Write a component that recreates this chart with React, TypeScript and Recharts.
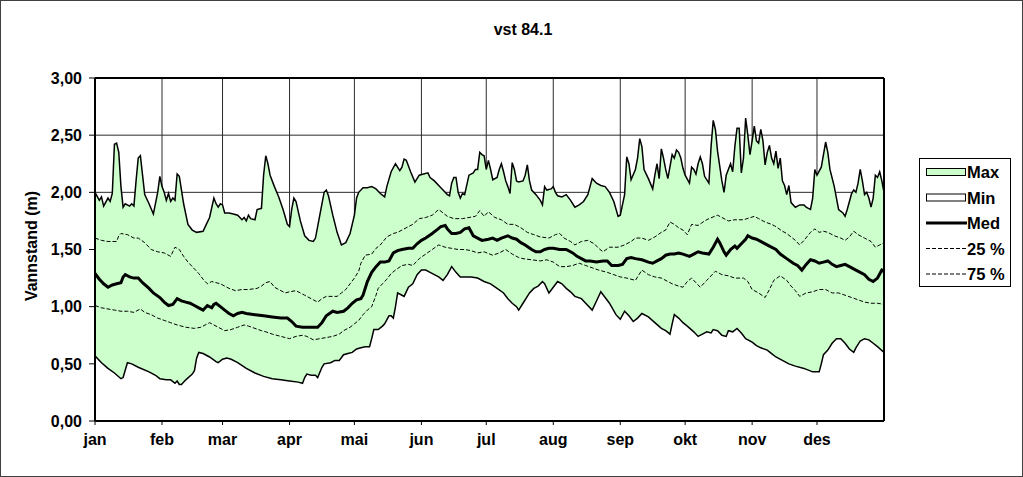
import {
  Area,
  CartesianGrid,
  ComposedChart,
  Line,
  ReferenceLine,
  XAxis,
  YAxis,
} from "recharts";

// x = day of year (0 = 1 jan), y = vannstand (m)
const months = ["jan", "feb", "mar", "apr", "mai", "jun", "jul", "aug", "sep", "okt", "nov", "des"];
const monthStartDays = [0, 31, 59, 90, 120, 151, 181, 212, 243, 273, 304, 334];
const yTicks = [0, 0.5, 1, 1.5, 2, 2.5, 3];

const maxPoints: [number, number][] = [
  [0, 2.0], [2, 1.93], [3, 1.96], [4, 1.88], [6, 1.95], [7, 1.92], [8, 1.99], [9, 2.42], [10, 2.43],
  [11, 2.35], [12, 2.05], [13, 1.87], [14, 1.9], [16, 1.88], [17, 1.9], [18, 1.88], [19, 2.1], [20, 2.3],
  [21, 2.32], [22, 2.15], [23, 1.98], [25, 1.9], [27, 1.81], [29, 2.0], [30, 2.14], [31, 2.05], [32, 2.0],
  [33, 1.93], [34, 1.99], [35, 1.92], [36, 1.95], [37, 1.93], [38, 2.16], [39, 2.14], [41, 1.9], [43, 1.72],
  [45, 1.67], [47, 1.65], [50, 1.66], [51, 1.7], [53, 1.78], [55, 1.95], [56, 1.9], [57, 1.87], [58, 1.9],
  [59, 1.89], [60, 1.82], [62, 1.82], [64, 1.81], [66, 1.8], [68, 1.76], [69, 1.78], [70, 1.75], [71, 1.8],
  [72, 1.77], [74, 1.76], [75, 1.85], [77, 1.86], [78, 2.15], [79, 2.32], [80, 2.25], [81, 2.15], [83, 2.05],
  [85, 1.96], [87, 1.85], [89, 1.72], [90, 1.7], [91, 1.85], [92, 1.95], [93, 1.92], [95, 1.75], [97, 1.62],
  [99, 1.58], [101, 1.57], [102, 1.6], [104, 1.8], [106, 2.0], [107, 2.02], [108, 1.97], [110, 1.8],
  [112, 1.65], [114, 1.54], [116, 1.56], [118, 1.64], [120, 1.8], [121, 1.95], [122, 2.0], [124, 2.04],
  [126, 2.04], [128, 2.05], [130, 2.03], [132, 1.99], [134, 1.96], [135, 2.05], [137, 2.18], [139, 2.25],
  [141, 2.19], [142, 2.22], [143, 2.29], [144, 2.28], [146, 2.18], [148, 2.09], [150, 2.15], [152, 2.16],
  [154, 2.17], [155, 2.13], [157, 2.1], [159, 2.06], [161, 2.02], [163, 1.98], [164, 1.97], [165, 2.08],
  [166, 2.13], [167, 2.13], [168, 2.0], [169, 1.95], [170, 1.99], [171, 1.98], [173, 2.15], [175, 2.17],
  [176, 2.2], [177, 2.2], [178, 2.35], [179, 2.33], [180, 2.32], [181, 2.2], [182, 2.28], [183, 2.2],
  [184, 2.11], [186, 2.13], [187, 2.2], [188, 2.25], [189, 2.18], [190, 2.1], [191, 2.05], [192, 1.99],
  [193, 2.26], [194, 2.2], [195, 2.1], [196, 2.09], [198, 2.1], [199, 2.15], [200, 2.24], [201, 2.1],
  [202, 2.02], [204, 1.98], [206, 1.93], [207, 1.89], [208, 2.05], [209, 2.02], [211, 2.03], [212, 2.05],
  [213, 2.0], [214, 1.97], [216, 1.96], [218, 1.98], [220, 1.93], [222, 1.87], [224, 1.89], [226, 1.92],
  [228, 1.98], [229, 2.05], [230, 2.12], [232, 2.08], [234, 2.06], [236, 2.05], [238, 2.0], [240, 1.92],
  [242, 1.79], [243, 1.8], [245, 1.98], [246, 2.31], [247, 2.25], [248, 2.11], [250, 2.2], [251, 2.3],
  [252, 2.47], [253, 2.4], [254, 2.2], [256, 2.12], [258, 2.03], [259, 2.15], [260, 2.25], [261, 2.12],
  [262, 2.38], [263, 2.3], [264, 2.2], [265, 2.12], [267, 2.33], [268, 2.3], [269, 2.37], [270, 2.35],
  [271, 2.3], [272, 2.21], [273, 2.15], [275, 2.08], [276, 2.22], [277, 2.2], [278, 2.16], [279, 2.25],
  [280, 2.31], [281, 2.25], [282, 2.14], [284, 2.08], [285, 2.4], [286, 2.63], [287, 2.55], [288, 2.36],
  [290, 2.1], [291, 2.0], [292, 2.15], [293, 2.2], [294, 2.25], [295, 2.18], [296, 2.4], [297, 2.56],
  [298, 2.56], [299, 2.17], [300, 2.3], [301, 2.65], [302, 2.5], [303, 2.33], [304, 2.45], [305, 2.58],
  [306, 2.45], [307, 2.43], [308, 2.55], [309, 2.45], [310, 2.24], [311, 2.35], [312, 2.41], [313, 2.3],
  [314, 2.25], [315, 2.36], [316, 2.21], [317, 2.3], [318, 2.1], [319, 2.06], [320, 1.98], [321, 2.06],
  [322, 1.91], [324, 1.87], [326, 1.89], [328, 1.89], [329, 1.87], [330, 1.86], [331, 1.85], [332, 1.95],
  [333, 2.2], [334, 2.15], [336, 2.22], [338, 2.44], [339, 2.35], [340, 2.2], [342, 2.05], [343, 1.95],
  [344, 1.85], [346, 1.82], [347, 1.79], [348, 1.85], [350, 1.99], [351, 2.02], [352, 2.0], [353, 2.08],
  [354, 2.2], [355, 2.1], [356, 1.98], [357, 2.0], [358, 1.95], [359, 1.87], [360, 1.95], [361, 2.15],
  [362, 2.13], [363, 2.18], [364, 2.1], [365, 2.0],
];

const minPoints: [number, number][] = [
  [0, 0.57], [3, 0.51], [6, 0.46], [9, 0.42], [12, 0.37], [13, 0.38], [15, 0.51], [17, 0.5], [20, 0.47],
  [25, 0.43], [28, 0.4], [30, 0.37], [33, 0.36], [35, 0.36], [37, 0.33], [38, 0.35], [39, 0.32], [40, 0.32],
  [42, 0.36], [45, 0.41], [46, 0.44], [47, 0.55], [48, 0.6], [50, 0.59], [53, 0.56], [56, 0.52], [57, 0.51],
  [59, 0.54], [61, 0.55], [63, 0.54], [66, 0.51], [70, 0.46], [74, 0.42], [78, 0.39], [82, 0.37], [86, 0.36],
  [90, 0.35], [94, 0.34], [96, 0.33], [97, 0.38], [98, 0.41], [100, 0.4], [102, 0.4], [103, 0.38], [105, 0.47],
  [106, 0.5], [109, 0.51], [111, 0.53], [113, 0.53], [115, 0.58], [117, 0.59], [119, 0.6], [121, 0.63],
  [123, 0.64], [125, 0.65], [127, 0.65], [128, 0.72], [129, 0.8], [131, 0.8], [133, 0.83], [134, 0.85],
  [136, 0.92], [137, 0.92], [138, 0.9], [139, 1.0], [140, 1.12], [142, 1.1], [143, 1.09], [145, 1.17],
  [147, 1.2], [149, 1.28], [151, 1.32], [153, 1.32], [155, 1.3], [157, 1.28], [159, 1.26], [161, 1.23],
  [163, 1.28], [165, 1.35], [167, 1.3], [169, 1.26], [171, 1.26], [174, 1.26], [177, 1.25], [180, 1.22],
  [183, 1.2], [186, 1.16], [189, 1.12], [191, 1.07], [193, 1.03], [195, 1.0], [196, 0.97], [198, 1.03],
  [200, 1.09], [201, 1.12], [203, 1.16], [205, 1.18], [207, 1.22], [208, 1.2], [209, 1.16], [210, 1.12],
  [212, 1.17], [214, 1.22], [216, 1.2], [218, 1.16], [220, 1.13], [222, 1.09], [225, 1.07], [227, 1.03],
  [230, 0.97], [232, 1.05], [234, 1.13], [236, 1.08], [238, 1.03], [241, 0.93], [243, 0.89], [245, 0.96],
  [247, 0.92], [249, 0.87], [251, 0.9], [253, 0.94], [256, 0.91], [259, 0.86], [262, 0.81], [264, 0.79],
  [266, 0.76], [267, 0.85], [268, 0.93], [270, 0.9], [272, 0.86], [274, 0.83], [277, 0.78], [279, 0.74],
  [281, 0.76], [283, 0.78], [285, 0.77], [286, 0.8], [288, 0.79], [290, 0.75], [292, 0.74], [293, 0.79],
  [295, 0.78], [297, 0.81], [299, 0.77], [301, 0.72], [304, 0.69], [306, 0.66], [308, 0.64], [311, 0.62],
  [313, 0.59], [315, 0.56], [318, 0.53], [321, 0.5], [324, 0.48], [328, 0.46], [332, 0.43], [335, 0.43],
  [336, 0.5], [337, 0.58], [339, 0.62], [341, 0.68], [343, 0.72], [345, 0.72], [347, 0.68], [349, 0.63],
  [351, 0.6], [352, 0.64], [354, 0.7], [356, 0.72], [358, 0.71], [360, 0.68], [362, 0.65], [365, 0.6],
];

const medPoints: [number, number][] = [
  [0, 1.29], [2, 1.24], [4, 1.2], [6, 1.17], [8, 1.19], [10, 1.2], [12, 1.21], [13, 1.26], [14, 1.28],
  [16, 1.26], [18, 1.25], [20, 1.25], [22, 1.21], [25, 1.16], [27, 1.12], [30, 1.08], [32, 1.04], [34, 1.01],
  [36, 1.02], [38, 1.07], [40, 1.05], [42, 1.04], [44, 1.03], [46, 1.01], [48, 0.99], [50, 0.97], [52, 1.01],
  [54, 0.99], [55, 1.02], [56, 1.03], [58, 1.0], [60, 0.97], [62, 0.94], [64, 0.92], [66, 0.94], [68, 0.95],
  [70, 0.94], [74, 0.93], [78, 0.92], [82, 0.91], [86, 0.9], [89, 0.9], [91, 0.87], [93, 0.83], [96, 0.82],
  [100, 0.82], [103, 0.82], [105, 0.86], [107, 0.92], [110, 0.96], [112, 0.95], [115, 0.96], [117, 0.99],
  [119, 1.03], [121, 1.06], [123, 1.07], [124, 1.1], [126, 1.22], [128, 1.3], [130, 1.35], [132, 1.39],
  [134, 1.39], [136, 1.4], [138, 1.47], [140, 1.49], [142, 1.5], [145, 1.51], [147, 1.51], [149, 1.55],
  [151, 1.58], [153, 1.6], [156, 1.64], [158, 1.67], [160, 1.7], [162, 1.71], [163, 1.68], [165, 1.64],
  [167, 1.64], [169, 1.65], [171, 1.68], [173, 1.69], [175, 1.62], [177, 1.6], [179, 1.58], [182, 1.59],
  [184, 1.6], [186, 1.58], [188, 1.6], [191, 1.62], [193, 1.6], [195, 1.59], [197, 1.56], [199, 1.54],
  [202, 1.5], [204, 1.48], [206, 1.48], [208, 1.5], [210, 1.51], [212, 1.51], [215, 1.5], [218, 1.5],
  [221, 1.47], [223, 1.44], [225, 1.42], [227, 1.4], [229, 1.4], [232, 1.39], [235, 1.4], [237, 1.4],
  [239, 1.36], [242, 1.36], [244, 1.37], [246, 1.42], [248, 1.43], [250, 1.42], [253, 1.41], [256, 1.39],
  [258, 1.38], [260, 1.4], [262, 1.42], [264, 1.45], [266, 1.46], [268, 1.46], [270, 1.47], [272, 1.46],
  [275, 1.44], [277, 1.46], [279, 1.48], [281, 1.47], [284, 1.46], [286, 1.52], [288, 1.59], [289, 1.56],
  [291, 1.48], [292, 1.45], [294, 1.5], [296, 1.53], [297, 1.51], [299, 1.55], [301, 1.59], [302, 1.62],
  [304, 1.6], [306, 1.59], [309, 1.56], [312, 1.53], [315, 1.5], [317, 1.46], [320, 1.42], [323, 1.38],
  [325, 1.36], [327, 1.32], [329, 1.37], [331, 1.41], [333, 1.4], [335, 1.38], [337, 1.39], [339, 1.4],
  [341, 1.37], [343, 1.35], [345, 1.36], [347, 1.37], [349, 1.35], [352, 1.32], [354, 1.3], [356, 1.28],
  [358, 1.24], [360, 1.22], [362, 1.25], [364, 1.32], [365, 1.31],
];

// upper dashed curve
const p75Points: [number, number][] = [
  [0, 1.6], [3, 1.58], [6, 1.57], [10, 1.57], [11, 1.62], [12, 1.64], [15, 1.63], [18, 1.6], [20, 1.6],
  [23, 1.56], [26, 1.5], [29, 1.48], [32, 1.47], [35, 1.44], [37, 1.52], [39, 1.5], [41, 1.44], [43, 1.39],
  [46, 1.33], [48, 1.29], [50, 1.24], [52, 1.2], [54, 1.22], [56, 1.21], [58, 1.2], [60, 1.18], [62, 1.16],
  [65, 1.14], [68, 1.15], [71, 1.15], [75, 1.16], [77, 1.18], [79, 1.21], [81, 1.22], [83, 1.17], [85, 1.15],
  [88, 1.12], [90, 1.13], [93, 1.14], [95, 1.12], [97, 1.1], [99, 1.08], [101, 1.06], [103, 1.04], [105, 1.07],
  [107, 1.09], [110, 1.09], [112, 1.09], [114, 1.12], [116, 1.15], [118, 1.2], [120, 1.25], [122, 1.31],
  [123, 1.38], [125, 1.45], [128, 1.46], [130, 1.51], [132, 1.54], [135, 1.61], [138, 1.64], [140, 1.65],
  [142, 1.67], [145, 1.7], [147, 1.72], [150, 1.77], [153, 1.78], [156, 1.8], [159, 1.85], [161, 1.82],
  [163, 1.79], [166, 1.77], [170, 1.77], [173, 1.78], [176, 1.79], [178, 1.84], [180, 1.79], [182, 1.83],
  [185, 1.78], [188, 1.76], [191, 1.72], [194, 1.72], [197, 1.69], [200, 1.65], [203, 1.63], [206, 1.61],
  [210, 1.6], [213, 1.63], [215, 1.64], [217, 1.6], [220, 1.57], [222, 1.54], [225, 1.57], [228, 1.58],
  [231, 1.55], [233, 1.51], [235, 1.48], [238, 1.52], [242, 1.52], [245, 1.54], [248, 1.57], [250, 1.6],
  [253, 1.6], [256, 1.58], [259, 1.61], [262, 1.65], [264, 1.67], [266, 1.74], [268, 1.72], [270, 1.69],
  [272, 1.67], [274, 1.63], [276, 1.72], [279, 1.71], [282, 1.75], [284, 1.77], [288, 1.8], [290, 1.78],
  [293, 1.75], [296, 1.76], [300, 1.76], [305, 1.79], [307, 1.77], [310, 1.74], [313, 1.72], [315, 1.7],
  [318, 1.66], [320, 1.64], [322, 1.61], [324, 1.58], [326, 1.54], [328, 1.58], [331, 1.65], [333, 1.68],
  [335, 1.65], [337, 1.66], [339, 1.65], [342, 1.62], [345, 1.6], [347, 1.58], [349, 1.61], [351, 1.66],
  [353, 1.63], [356, 1.6], [359, 1.57], [361, 1.52], [363, 1.54], [365, 1.56],
];

// lower dashed curve
const p25Points: [number, number][] = [
  [0, 1.01], [3, 0.99], [6, 0.98], [9, 0.97], [12, 0.96], [15, 0.96], [18, 0.95], [21, 0.98], [23, 0.95],
  [26, 0.93], [29, 0.9], [32, 0.88], [35, 0.86], [38, 0.84], [42, 0.82], [46, 0.81], [49, 0.82], [51, 0.84],
  [53, 0.86], [55, 0.84], [57, 0.82], [60, 0.79], [63, 0.8], [66, 0.82], [69, 0.84], [71, 0.83], [74, 0.81],
  [77, 0.79], [79, 0.78], [82, 0.76], [86, 0.74], [90, 0.72], [93, 0.74], [96, 0.75], [98, 0.74], [101, 0.71],
  [104, 0.72], [107, 0.73], [110, 0.74], [113, 0.76], [115, 0.79], [118, 0.82], [120, 0.85], [122, 0.88],
  [124, 0.93], [126, 0.97], [128, 1.0], [130, 1.1], [131, 1.16], [133, 1.2], [135, 1.24], [137, 1.29],
  [139, 1.32], [142, 1.36], [145, 1.37], [147, 1.36], [150, 1.42], [153, 1.46], [156, 1.5], [159, 1.54],
  [162, 1.52], [165, 1.51], [168, 1.5], [171, 1.5], [174, 1.49], [177, 1.47], [180, 1.48], [184, 1.45],
  [187, 1.47], [190, 1.5], [193, 1.46], [196, 1.43], [198, 1.42], [202, 1.41], [206, 1.4], [209, 1.41],
  [212, 1.39], [215, 1.35], [218, 1.35], [221, 1.36], [224, 1.38], [227, 1.36], [230, 1.34], [233, 1.32],
  [237, 1.3], [240, 1.28], [243, 1.26], [246, 1.25], [250, 1.23], [253, 1.32], [256, 1.28], [259, 1.26],
  [262, 1.25], [265, 1.22], [267, 1.2], [270, 1.18], [272, 1.17], [274, 1.22], [276, 1.25], [278, 1.21],
  [280, 1.17], [283, 1.23], [287, 1.31], [290, 1.28], [293, 1.27], [296, 1.25], [300, 1.25], [302, 1.22],
  [304, 1.15], [307, 1.12], [310, 1.08], [312, 1.15], [314, 1.23], [317, 1.27], [320, 1.23], [322, 1.18],
  [324, 1.14], [326, 1.09], [329, 1.12], [332, 1.13], [335, 1.15], [338, 1.15], [341, 1.12], [344, 1.12],
  [347, 1.1], [350, 1.08], [353, 1.06], [356, 1.04], [359, 1.03], [362, 1.03], [365, 1.02],
];

const toRows = (pts: [number, number][]) => pts.map(([day, v]) => ({ day, v }));

const FONT = "'Liberation Sans', Arial, Helvetica, sans-serif";
const GREEN = "#ccffcc";

const tickStyle = { fill: "#000", fontSize: 16, fontWeight: 700, fontFamily: FONT };

const legendItems = [
  { name: "Max", kind: "area", fill: GREEN },
  { name: "Min", kind: "area", fill: "#fff" },
  { name: "Med", kind: "thick" },
  { name: "25 %", kind: "dash" },
  { name: "75 %", kind: "dash" },
];

const YTitle = () => (
  <text
    x={31}
    y={246}
    transform="rotate(-90 31 246)"
    textAnchor="middle"
    dominantBaseline="central"
    style={{ fontFamily: FONT, fontSize: 16, fontWeight: 700, fill: "#000" }}
  >
    Vannstand (m)
  </text>
);

const Overlay = () => (
  <svg
    width={1023}
    height={477}
    style={{ position: "absolute", left: 0, top: 0, pointerEvents: "none" }}
  >
    <rect x={0.5} y={0.5} width={1022} height={476} fill="none" stroke="#404040" strokeWidth={1} />
    <text
      x={523}
      y={35}
      textAnchor="middle"
      style={{ fontFamily: FONT, fontSize: 16, fontWeight: 700, fill: "#000" }}
    >
      vst 84.1
    </text>
    <rect x={919.5} y={158.5} width={91} height={128} fill="#fff" stroke="#000" strokeWidth={1} />
    {legendItems.map((item, i) => {
      const cy = 172 + i * 25.5;
      return (
        <g key={item.name}>
          {item.kind === "area" && (
            <rect x={926.5} y={cy - 3.5} width={39} height={7} fill={item.fill} stroke="#000" strokeWidth={1} />
          )}
          {item.kind === "thick" && <line x1={926} x2={967} y1={cy} y2={cy} stroke="#000" strokeWidth={3} />}
          {item.kind === "dash" && (
            <line x1={926} x2={966} y1={cy} y2={cy} stroke="#000" strokeWidth={1} strokeDasharray="4 2" />
          )}
          <text
            x={967}
            y={cy}
            dominantBaseline="central"
            style={{ fontFamily: FONT, fontSize: 16.5, fontWeight: 700, fill: "#000" }}
          >
            {item.name}
          </text>
        </g>
      );
    })}
  </svg>
);

export default function App() {
  return (
    <div style={{ position: "relative", width: 1023, height: 477, background: "#fff" }}>
      <style>{"body{margin:0}"}</style>
      <ComposedChart width={1023} height={477} margin={{ top: 78, right: 139, bottom: 0, left: 0 }}>
        <CartesianGrid stroke="#2a2a2a" strokeWidth={1} />
        <XAxis
          dataKey="day"
          type="number"
          domain={[0, 365]}
          allowDataOverflow
          ticks={monthStartDays}
          interval={0}
          tickFormatter={(d: number) => months[monthStartDays.indexOf(d)] ?? ""}
          height={56}
          tickSize={4}
          tickMargin={9}
          axisLine={{ stroke: "#000", strokeWidth: 2 }}
          tickLine={{ stroke: "#000" }}
          tick={tickStyle}
        />
        <YAxis
          type="number"
          domain={[0, 3]}
          ticks={yTicks}
          interval={0}
          tickFormatter={(v: number) => v.toFixed(2).replace(".", ",")}
          width={95}
          tickSize={6}
          tickMargin={7}
          axisLine={{ stroke: "#000", strokeWidth: 2 }}
          tickLine={{ stroke: "#000" }}
          tick={tickStyle}
          label={<YTitle />}
        />
        <Area
          data={toRows(maxPoints)}
          dataKey="v"
          name="Max"
          type="linear"
          stroke="#000"
          strokeWidth={1.5}
          fill={GREEN}
          fillOpacity={1}
          isAnimationActive={false}
        />
        <Area
          data={toRows(minPoints)}
          dataKey="v"
          name="Min"
          type="linear"
          stroke="#000"
          strokeWidth={1.5}
          fill="#fff"
          fillOpacity={1}
          isAnimationActive={false}
        />
        <Line
          data={toRows(p75Points)}
          dataKey="v"
          name="75 %"
          type="linear"
          stroke="#000"
          strokeWidth={1}
          strokeDasharray="4 2"
          dot={false}
          isAnimationActive={false}
        />
        <Line
          data={toRows(p25Points)}
          dataKey="v"
          name="25 %"
          type="linear"
          stroke="#000"
          strokeWidth={1}
          strokeDasharray="4 2"
          dot={false}
          isAnimationActive={false}
        />
        <Line
          data={toRows(medPoints)}
          dataKey="v"
          name="Med"
          type="linear"
          stroke="#000"
          strokeWidth={3}
          dot={false}
          isAnimationActive={false}
        />
        <ReferenceLine y={3} stroke="#000" strokeWidth={2} />
        <ReferenceLine x={365} stroke="#000" strokeWidth={2} />
      </ComposedChart>
      <Overlay />
    </div>
  );
}
